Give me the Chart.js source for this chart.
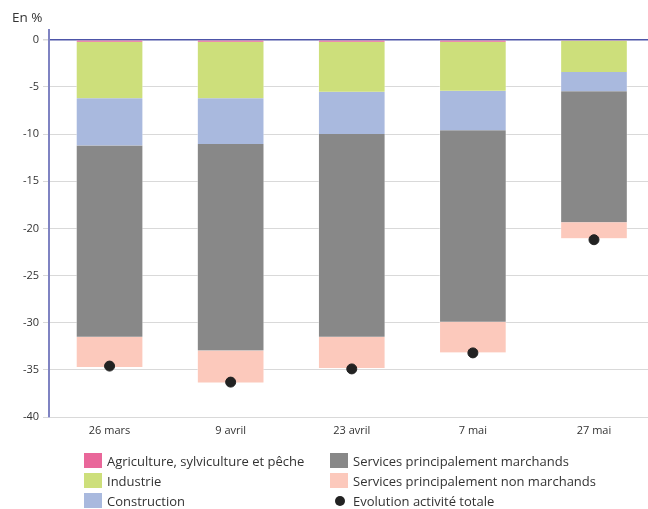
<!DOCTYPE html>
<html>
<head>
<meta charset="utf-8">
<script src="https://cdn.jsdelivr.net/npm/chart.js@4"></script>
<style>
  body { margin: 0; background: #fff; font-family: 'Open Sans', sans-serif; color: #333; }
  #wrap { position: relative; width: 648px; height: 509px; }
  #unit { position: absolute; left: 12px; top: 8px; font-size: 13.5px; }
  #legend { position: absolute; left: 0; top: 0; width: 648px; height: 509px; pointer-events: none; }
  .item { position: absolute; font-size: 13px; line-height: 20px; white-space: nowrap; }
  .box { position: absolute; width: 18px; height: 15px; }
  .dot { position: absolute; width: 10px; height: 10px; border-radius: 50%; }
</style>
</head>
<body>
<div id="wrap">
  <canvas id="chart" width="648" height="445"></canvas>
  <div id="unit">En %</div>
  <div id="legend"></div>
</div>
<script>
// données (contributions en points de %)
const categories = ['26 mars', '9 avril', '23 avril', '7 mai', '27 mai'];
const agriculture = [-0.2, -0.2, -0.2, -0.2, -0.1];
const industrie = [-6.0, -6.0, -5.3, -5.2, -3.3];
const construction = [-5.0, -4.85, -4.5, -4.2, -2.05];
const servicesMarchands = [-20.3, -21.9, -21.5, -20.3, -13.9];
const servicesNonMarchands = [-3.2, -3.4, -3.3, -3.25, -1.7];
const evolutionTotale = [-34.6, -36.3, -34.9, -33.2, -21.2];
const yTicks = [0, -5, -10, -15, -20, -25, -30, -35, -40];

Chart.defaults.font.family = "'Open Sans', sans-serif";
Chart.defaults.color = '#333';

const toPoints = arr => arr.map((v, i) => ({ x: i, y: v }));

const barSeries = [
  { label: 'Agriculture, sylviculture et pêche', values: agriculture, color: '#e9679a' },
  { label: 'Industrie', values: industrie, color: '#cddf7b' },
  { label: 'Construction', values: construction, color: '#a9b9de' },
  { label: 'Services principalement marchands', values: servicesMarchands, color: '#888888' },
  { label: 'Services principalement non marchands', values: servicesNonMarchands, color: '#fcc9bc' }
];

const datasets = barSeries.map(s => ({
  type: 'bar',
  label: s.label,
  data: toPoints(s.values),
  backgroundColor: s.color,
  borderColor: 'rgba(255,255,255,0.35)',
  borderWidth: { left: 1, right: 1 },
  barThickness: 67,
  order: 1
}));

datasets.push({
  type: 'scatter',
  label: 'Evolution activité totale',
  data: toPoints(evolutionTotale),
  backgroundColor: '#222',
  borderColor: '#222',
  pointRadius: 5,
  pointHoverRadius: 5,
  stack: 'total',
  order: 0
});

const ctx = document.getElementById('chart').getContext('2d');
const chart = new Chart(ctx, {
  data: { datasets: datasets },
  options: {
    responsive: false,
    animation: false,
    layout: { autoPadding: false, padding: { top: 30.4, right: 0, left: 0, bottom: 0 } },
    plugins: {
      legend: { display: false },
      tooltip: { enabled: false }
    },
    scales: {
      x: {
        type: 'linear',
        stacked: true,
        offset: false,
        min: -0.5,
        max: 4.446,
        afterBuildTicks: axis => { axis.ticks = categories.map((c, i) => ({ value: i })); },
        afterFit: axis => {
          axis.height = 28;
          axis.paddingLeft = 0;
          axis.paddingRight = 0;
        },
        ticks: {
          padding: 7,
          font: { size: 11 },
          color: '#333',
          maxRotation: 0,
          callback: v => categories[v]
        },
        grid: { display: false, drawTicks: false, offset: false },
        border: { display: false }
      },
      y: {
        type: 'linear',
        stacked: true,
        min: -40,
        max: 1,
        afterBuildTicks: axis => { axis.ticks = yTicks.map(v => ({ value: v })); },
        afterFit: axis => { axis.width = 49; },
        ticks: {
          padding: 4,
          font: { size: 11 },
          color: '#333'
        },
        grid: {
          color: c => c.tick && c.tick.value === 0 ? '#4d55a8' : '#d9d9d9',
          lineWidth: c => c.tick && c.tick.value === 0 ? 1.5 : 1,
          tickColor: '#d9d9d9',
          tickLength: 6
        },
        border: { color: '#7f83c2', width: 2 }
      }
    }
  }
});

// légende en deux colonnes, comme sur l'original
const legend = document.getElementById('legend');
const legendItems = [
  { ds: 0, x: 84, y: 453 },
  { ds: 1, x: 84, y: 473 },
  { ds: 2, x: 84, y: 493 },
  { ds: 3, x: 330, y: 453 },
  { ds: 4, x: 330, y: 473 },
  { ds: 5, x: 330, y: 493 }
];
legendItems.forEach(it => {
  const ds = chart.data.datasets[it.ds];
  const mark = document.createElement('div');
  if (ds.type === 'scatter') {
    mark.className = 'dot';
    mark.style.left = (it.x + 5) + 'px';
    mark.style.top = (it.y + 3) + 'px';
  } else {
    mark.className = 'box';
    mark.style.left = it.x + 'px';
    mark.style.top = it.y + 'px';
  }
  mark.style.background = ds.backgroundColor;
  legend.appendChild(mark);

  const txt = document.createElement('div');
  txt.className = 'item';
  txt.style.left = (it.x + 23) + 'px';
  txt.style.top = (it.y - 2) + 'px';
  txt.textContent = ds.label;
  legend.appendChild(txt);
});
</script>
</body>
</html>
